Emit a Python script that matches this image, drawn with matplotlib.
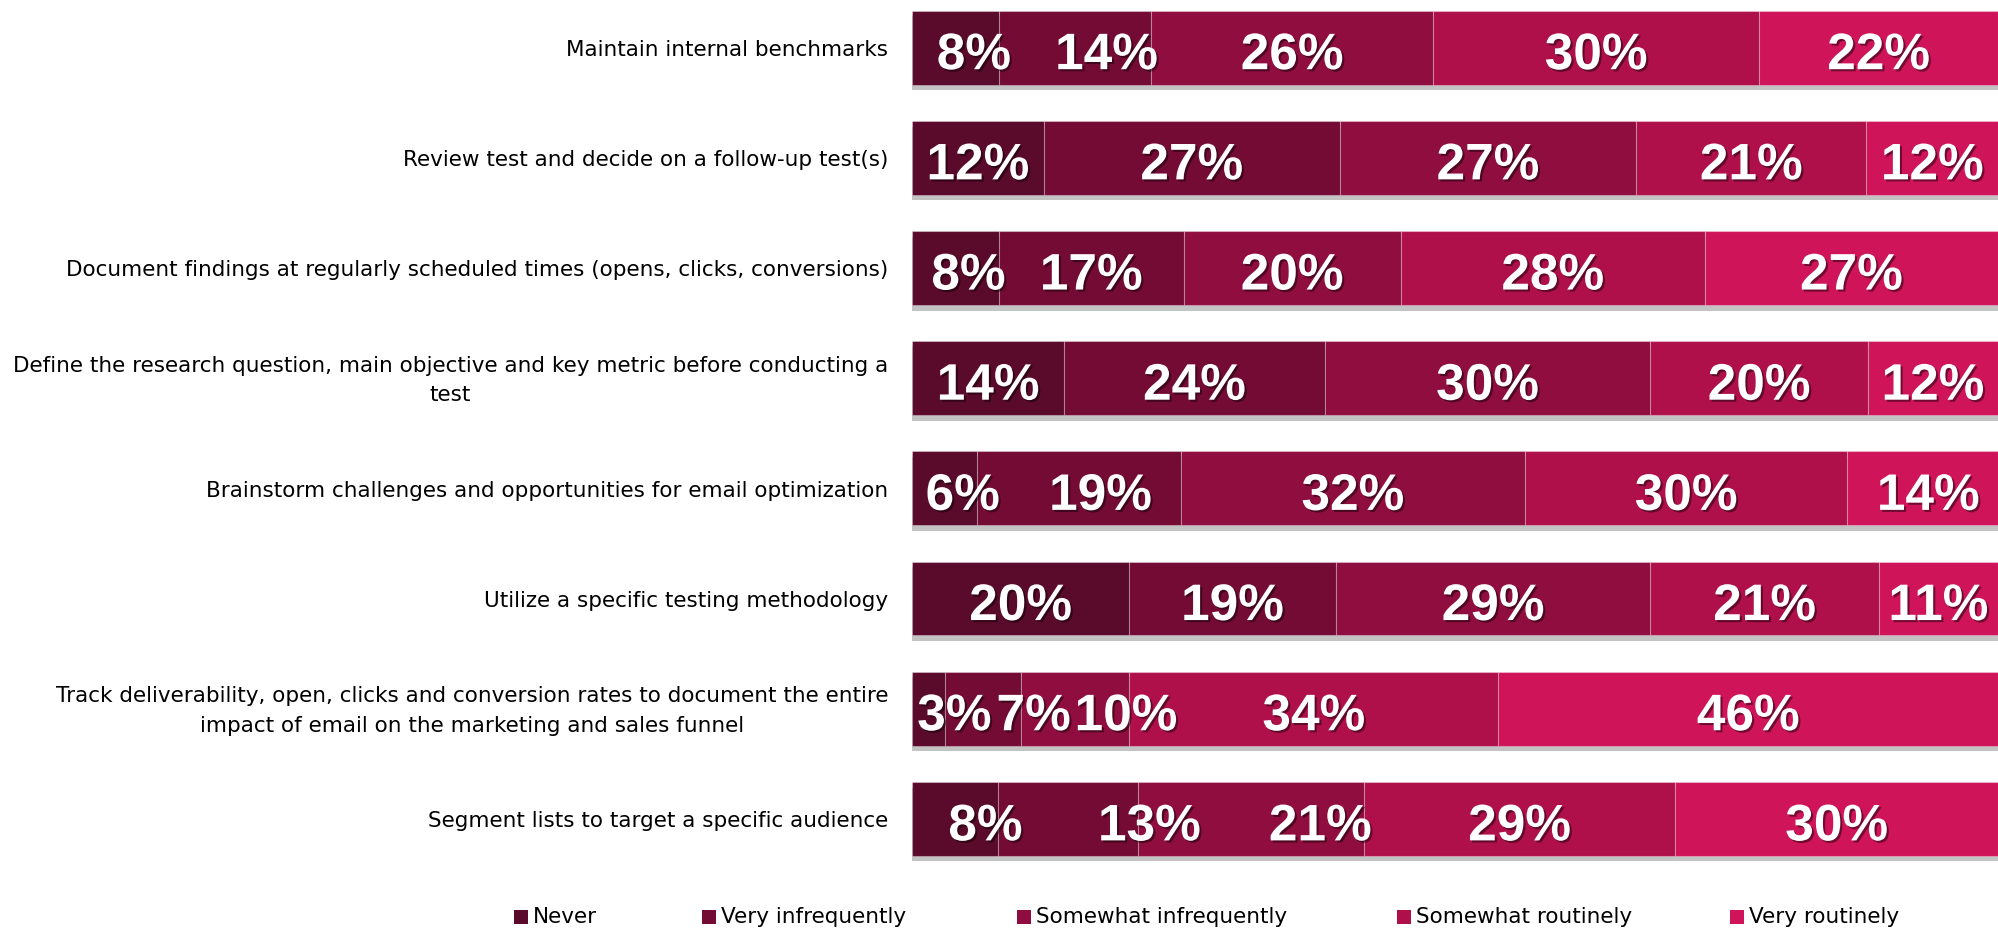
import matplotlib
matplotlib.use("Agg")
import matplotlib.pyplot as plt
import matplotlib.patheffects as pe
from matplotlib.patches import Rectangle
from matplotlib import font_manager as fm
import matplotlib.transforms as mtransforms

categories = [
    "Maintain internal benchmarks",
    "Review test and decide on a follow-up test(s)",
    "Document findings at regularly scheduled times (opens, clicks, conversions)",
    "Define the research question, main objective and key metric before conducting a\ntest",
    "Brainstorm challenges and opportunities for email optimization",
    "Utilize a specific testing methodology",
    "Track deliverability, open, clicks and conversion rates to document the entire\nimpact of email on the marketing and sales funnel",
    "Segment lists to target a specific audience",
]
series_names = ["Never", "Very infrequently", "Somewhat infrequently",
                "Somewhat routinely", "Very routinely"]
never = [8, 12, 8, 14, 6, 20, 3, 8]
very_infrequently = [14, 27, 17, 24, 19, 19, 7, 13]
somewhat_infrequently = [26, 27, 20, 30, 32, 29, 10, 21]
somewhat_routinely = [30, 21, 28, 20, 30, 21, 34, 29]
very_routinely = [22, 12, 27, 12, 14, 11, 46, 30]
series_values = [never, very_infrequently, somewhat_infrequently,
                 somewhat_routinely, very_routinely]
colors = ["#5a0a2a", "#740b35", "#8f0d3f", "#b0104a", "#cf1459"]

# horizontal nudges (percent of bar length) for labels in crowded rows
label_nudge = [
    [1.7, 2.9, 0, 0, 0],
    [0, 0, 0, 0, 0],
    [1.2, 0, 0, 0, 0],
    [0, 0, 0, 0, 0],
    [1.7, 2.0, 0, 0, 0.5],
    [0, 0, 0, 0, 0],
    [2.4, 4.7, 4.7, 0, 0],
    [2.8, 7.5, 6.4, 0, 0],
]

names = {f.name for f in fm.fontManager.ttflist}
label_font = ["Liberation Sans Narrow", "DejaVu Sans"] if "Liberation Sans Narrow" in names else ["DejaVu Sans"]
value_font = ["Liberation Sans", "DejaVu Sans"]

W, H = 1998, 931
fig = plt.figure(figsize=(W / 100, H / 100), dpi=100)
ax = fig.add_axes([912 / W, 57 / H, 1086 / W, 874 / H])

n = len(categories)
totals = [sum(s[i] for s in series_values) for i in range(n)]
bar_h = 0.67
shadow = [pe.SimplePatchShadow(offset=(0, -4), shadow_rgbFace="#7a7a7a", alpha=0.45), pe.Normal()]
text_fx = [pe.withSimplePatchShadow(offset=(1.5, -1.5), shadow_rgbFace="black", alpha=0.45)]

left = [0.0] * n
for k, vals in enumerate(series_values):
    widths = [vals[i] / totals[i] * 100 for i in range(n)]
    bars = ax.barh(range(n), widths, left=left, height=bar_h, color=colors[k],
                   edgecolor=(1, 1, 1, 0.3), linewidth=0.8, zorder=2)
    for b in bars:
        b.set_path_effects(shadow)
    for i in range(n):
        ax.text(left[i] + widths[i] / 2 + label_nudge[i][k], i + 0.195, f"{vals[i]}%",
                ha="center", va="baseline", color="white", fontsize=37,
                fontweight="bold", family=value_font, path_effects=text_fx, zorder=5)
    left = [left[i] + widths[i] for i in range(n)]

ax.set_xlim(0, 100)
ax.set_ylim(7.5, -0.433)
ax.axis("off")

trans = mtransforms.blended_transform_factory(ax.transAxes, ax.transData)
for i, cat in enumerate(categories):
    ax.text(-0.022, i + 0.02, cat, transform=trans, ha="right", va="center",
            multialignment="center", fontsize=15.5, family=label_font,
            color="#000000", linespacing=1.6)

# legend entries along the bottom
legend_x = [514, 702, 1017, 1397, 1730]
sq = 14
for name, c, x in zip(series_names, colors, legend_x):
    fig.patches.append(Rectangle((x / W, (H - 917 - sq / 2) / H), sq / W, sq / H,
                                 transform=fig.transFigure, facecolor=c, edgecolor="none"))
    fig.text((x + sq + 5) / W, (H - 917) / H, name, ha="left", va="center",
             fontsize=15.5, family=label_font, color="#000000")

fig.savefig("out.png", dpi=100, facecolor="white")
